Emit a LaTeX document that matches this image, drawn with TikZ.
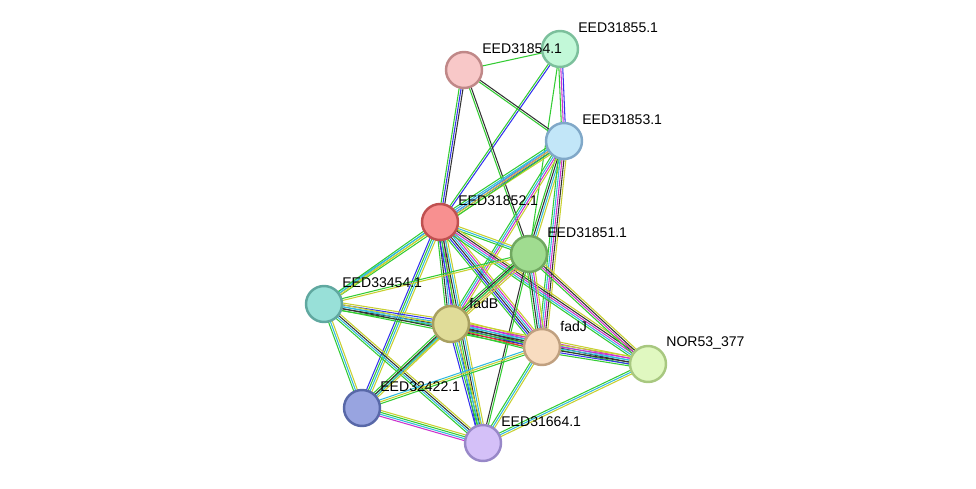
\documentclass[tikz,border=0pt]{standalone}
\usepackage{fontspec}
\setmainfont{Liberation Sans}
\usetikzlibrary{calc,backgrounds}
\definecolor{sgreen}{HTML}{33CC33}
\definecolor{sblue}{HTML}{3333EE}
\definecolor{sblack}{HTML}{333333}
\definecolor{smag}{HTML}{CC33CC}
\definecolor{scyan}{HTML}{33BBDD}
\definecolor{syel}{HTML}{C8D030}
\definecolor{sred}{HTML}{EE3333}
\definecolor{f55}{HTML}{C2F8D8}\definecolor{d55}{HTML}{7CC09C}
\definecolor{f54}{HTML}{F8C8C8}\definecolor{d54}{HTML}{C08888}
\definecolor{f53}{HTML}{C2E6F8}\definecolor{d53}{HTML}{80A8C8}
\definecolor{f52}{HTML}{F89090}\definecolor{d52}{HTML}{C05050}
\definecolor{f51}{HTML}{A0DC90}\definecolor{d51}{HTML}{70A860}
\definecolor{f33}{HTML}{98E0D8}\definecolor{d33}{HTML}{60A8A0}
\definecolor{fB}{HTML}{E0DC98}\definecolor{dB}{HTML}{A8A060}
\definecolor{fJ}{HTML}{F8DCC0}\definecolor{dJ}{HTML}{C0A080}
\definecolor{fN}{HTML}{E0F8C0}\definecolor{dN}{HTML}{A8C880}
\definecolor{f32}{HTML}{98A4E0}\definecolor{d32}{HTML}{5868A8}
\definecolor{f16}{HTML}{D4C0F8}\definecolor{d16}{HTML}{9888C8}
\tikzset{
  prot/.style 2 args={circle,minimum size=0.72cm,line width=1.4pt,fill=#1,draw=#2},
  lab/.style={font=\footnotesize,anchor=west,inner sep=0pt},
}
% multi-coloured evidence edge
\newcommand\stredge[3]{%
  \foreach \c [count=\n] in {#3}{\xdef\kk{\n}}%
  \foreach \c [count=\i] in {#3}{%
    \pgfmathsetmacro\off{(\i-(\kk+1)/2)*1.1}%
    \draw[\c,line width=0.6pt] ($(#1.center)!\off pt!90:(#2.center)$) -- ($(#2.center)!\off pt!-90:(#1.center)$);}}
\begin{document}
\begin{tikzpicture}[x=0.02cm,y=-0.02cm]
\useasboundingbox (0,0) rectangle (976,489);
% proteins
\node[prot={f55}{d55}] (e55) at (560,49) {};
\node[prot={f54}{d54}] (e54) at (464,70) {};
\node[prot={f53}{d53}] (e53) at (564,141) {};
\node[prot={f52}{d52}] (e52) at (440,222) {};
\node[prot={f51}{d51}] (e51) at (529,254) {};
\node[prot={f33}{d33}] (e33) at (324,304) {};
\node[prot={fB}{dB}] (fadB) at (451,324) {};
\node[prot={fJ}{dJ}] (fadJ) at (542,347) {};
\node[prot={fN}{dN}] (nor) at (648,364) {};
\node[prot={f32}{d32}] (e32) at (362,408) {};
\node[prot={f16}{d16}] (e16) at (483,443) {};
% labels
\foreach \n/\t in {e55/EED31855.1,e54/EED31854.1,e53/EED31853.1,e52/EED31852.1,
  e51/EED31851.1,e33/EED33454.1,fadB/fadB,fadJ/fadJ,nor/NOR53\_377,
  e32/EED32422.1,e16/EED31664.1}
  \node[lab] (l\n) at ($(\n.center)+(18,-21)$) {\t};
% edges
\begin{scope}[on background layer]
\stredge{e55}{e54}{sgreen}
\stredge{e55}{e52}{sgreen,sblue}
\stredge{e55}{e53}{sgreen,smag,sblue}
\stredge{e55}{e51}{sgreen}
\stredge{e54}{e52}{sgreen,sblue,sblack}
\stredge{e54}{e53}{sgreen,sblack}
\stredge{e54}{e51}{sgreen,sblack}
\stredge{e53}{e52}{sgreen,scyan,smag,sblue,syel}
\stredge{e53}{e51}{sgreen,sblack,scyan,syel}
\stredge{e53}{fadB}{sgreen,scyan,smag,syel}
\stredge{e53}{fadJ}{sgreen,scyan,smag,sblack,syel}
\stredge{e53}{e33}{scyan,syel,sgreen}
\stredge{e52}{e51}{sgreen,scyan,syel}
\stredge{e52}{e33}{sgreen,scyan,syel}
\stredge{e52}{fadB}{sgreen,sblack,scyan,smag,syel}
\stredge{e52}{fadJ}{sgreen,sblue,sblack,scyan,smag,syel}
\stredge{e52}{nor}{sgreen,scyan,smag,sblack,syel}
\stredge{e52}{e32}{sblue,sgreen,scyan,syel}
\stredge{e52}{e16}{sblue,sgreen,sblack,scyan,syel}
\stredge{e51}{fadB}{sgreen,sblack,scyan,smag,syel}
\stredge{e51}{fadJ}{sgreen,sblack,scyan,smag,syel}
\stredge{e51}{nor}{sgreen,smag,sblack,syel}
\stredge{e51}{e33}{sgreen,syel}
\stredge{e51}{e32}{sgreen,syel}
\stredge{e51}{e16}{sblack,sgreen}
\stredge{e33}{fadB}{sgreen,sblack,scyan,sblue,syel}
\stredge{e33}{fadJ}{sgreen,sblack,scyan,syel}
\stredge{e33}{e32}{sgreen,scyan,syel}
\stredge{e33}{e16}{sgreen,scyan,sblack,syel}
\stredge{fadB}{fadJ}{sgreen,sred,sblue,sblack,scyan,smag,syel}
\stredge{fadB}{nor}{sgreen,sblack,scyan,smag,syel}
\stredge{fadB}{e32}{sgreen,sblack,scyan,syel}
\stredge{fadB}{e16}{sblue,sgreen,scyan,syel}
\stredge{fadJ}{nor}{sgreen,sblue,sblack,scyan,smag,syel}
\stredge{fadJ}{e32}{scyan,syel,sgreen}
\stredge{fadJ}{e16}{sgreen,scyan,syel}
\stredge{nor}{e16}{sgreen,scyan,syel}
\stredge{e32}{e16}{smag,scyan,sgreen,syel}
\end{scope}
\end{tikzpicture}
\end{document}
